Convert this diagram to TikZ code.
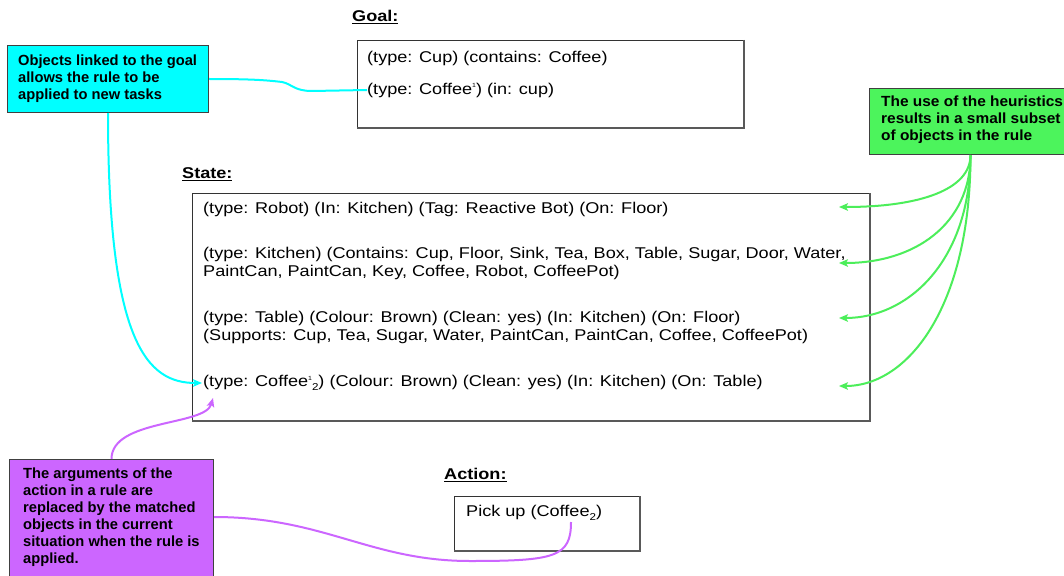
\documentclass[tikz,border=0pt]{standalone}
\usepackage{fontspec}
\setmainfont{Liberation Sans}
\newfontfamily\bodyfont[FakeStretch=1.16]{Liberation Sans}
\newfontfamily\widefont[FakeStretch=1.05]{Liberation Sans}
\usetikzlibrary{arrows.meta,calc}

\definecolor{cyanfill}{HTML}{00FFFF}
\definecolor{greenfill}{HTML}{4CF45C}
\definecolor{purplefill}{HTML}{CC66FF}
\definecolor{greenline}{HTML}{4CEE5A}
\definecolor{purpleline}{HTML}{CC66FF}

% small raised / lowered indices used in the object names
\newcommand\hione{\raisebox{0.8ex}{\fontsize{6}{6}\selectfont 1}}
\newcommand\lotwo{\raisebox{-0.45ex}{\fontsize{10}{10}\selectfont 2}}

\begin{document}
\begin{tikzpicture}[x=1pt,y=-1pt,
  bodytext/.style={font=\bodyfont\fontsize{15.6}{18}\selectfont, inner sep=0pt, align=left, anchor=west},
  heading/.style={font=\bodyfont\fontsize{15.6}{18}\selectfont\bfseries, inner sep=0pt, anchor=west},
  panel/.style={draw=black!80, line width=1pt, fill=white, anchor=north west, inner sep=0pt},
  edge/.style={draw=black!65, line width=1.8pt},
  callout/.style={draw=black!75, line width=1pt, anchor=north west, inner sep=0pt},
  calltext/.style={font=\fontsize{14.7}{17}\selectfont\bfseries, inner sep=0pt, align=left, anchor=west},
  link/.style={line width=2pt},
  tip/.style={-{Stealth[length=9pt,width=7.5pt,inset=2pt]}},
]
\useasboundingbox[fill=white] (0,0) rectangle (1064,575);

% ---- panels ----
\node[heading] (goalhead) at (352,17) {\underline{Goal:}};
\node[panel, minimum width=386pt, minimum height=87pt] (goal) at (357,40) {};
\draw[edge] (goal.north east) -- (goal.south east) -- (goal.south west);
\node[bodytext] (g1) at (367,58) {(type: Cup) (contains: Coffee)};
\node[bodytext] (g2) at (367,90) {(type: Coffee\hione) (in: cup)};

\node[heading] (statehead) at (182,174) {\underline{State:}};
\node[panel, minimum width=677pt, minimum height=227pt] (state) at (192,193) {};
\draw[edge] (state.north east) -- (state.south east) -- (state.south west);
\node[bodytext] (p1) at (203,209) {(type: Robot) (In: Kitchen) (Tag: Reactive Bot) (On: Floor)};
\node[bodytext] (p2) at (203,263) {(type: Kitchen) (Contains: Cup, Floor, Sink, Tea, Box, Table, Sugar, Door, Water,\\PaintCan, PaintCan, Key, Coffee, Robot, CoffeePot)};
\node[bodytext] (p3) at (203,327) {(type: Table) (Colour: Brown) (Clean: yes) (In: Kitchen) (On: Floor)\\(Supports: Cup, Tea, Sugar, Water, PaintCan, PaintCan, Coffee, CoffeePot)};
\node[bodytext] (p4) at (203,383) {(type: Coffee\hione\lotwo) (Colour: Brown) (Clean: yes) (In: Kitchen) (On: Table)};

\node[heading] (actionhead) at (444,475) {\underline{Action:}};
\node[panel, minimum width=185pt, minimum height=54pt] (action) at (454,496) {};
\draw[edge] (action.north east) -- (action.south east) -- (action.south west);
\node[bodytext] (a1) at (466,513) {Pick up (Coffee\lotwo)};

% ---- callouts ----
\node[callout, fill=cyanfill, minimum width=201pt, minimum height=67pt] (cbox) at (7,45) {};
\node[calltext] (ctext) at (18,78.5) {Objects linked to the goal\\allows the rule to be\\applied to new tasks};

\node[callout, fill=greenfill, minimum width=202pt, minimum height=66pt] (gbox) at (869,88) {};
\node[calltext, font=\widefont\fontsize{14.7}{17}\selectfont\bfseries] (gtext) at (881,120) {The use of the heuristics\\results in a small subset\\of objects in the rule};

\node[callout, fill=purplefill, minimum width=204pt, minimum height=130pt] (pbox) at (9,459) {};
\node[calltext] (ptext) at (23,517.5) {The arguments of the\\action in a rule are\\replaced by the matched\\objects in the current\\situation when the rule is\\applied.};

% ---- connector end points ----
\coordinate (h1) at (839,207);
\coordinate (h2) at (839,263);
\coordinate (h3) at (839,318);
\coordinate (h4) at (839,386);
\coordinate (argstate) at (213,398);
\coordinate (argaction) at (571,522);
\coordinate (pout) at ($(pbox.north east)+(0,58)$);

% ---- connectors ----
\draw[link, cyanfill] (cbox.east) .. controls (250,79) and (265,80) .. (282,82)
  .. controls (292,84) and (294,91) .. (312,91) -- (g2.west);
\draw[link, cyanfill, tip] (cbox.south) .. controls +(0,230) and +(-55,0) .. ([xshift=-1pt]p4.west);

\draw[link, greenline, tip] (gbox.south) .. controls +(0,35) and +(80,0) .. (h1);
\draw[link, greenline, tip] (gbox.south) .. controls +(0,70) and +(75,0) .. (h2);
\draw[link, greenline, tip] (gbox.south) .. controls +(0,105) and +(70,0) .. (h3);
\draw[link, greenline, tip] (gbox.south) .. controls +(0,150) and +(70,0) .. (h4);

\draw[link, purpleline, tip] (pbox.north) .. controls +(0,-40) and +(-8,28) .. (argstate);
\draw[link, purpleline] (pout) .. controls +(110,0) and +(-100,0) .. (470,561)
  .. controls +(85,0) and +(0,35) .. (argaction);
\end{tikzpicture}
\end{document}
